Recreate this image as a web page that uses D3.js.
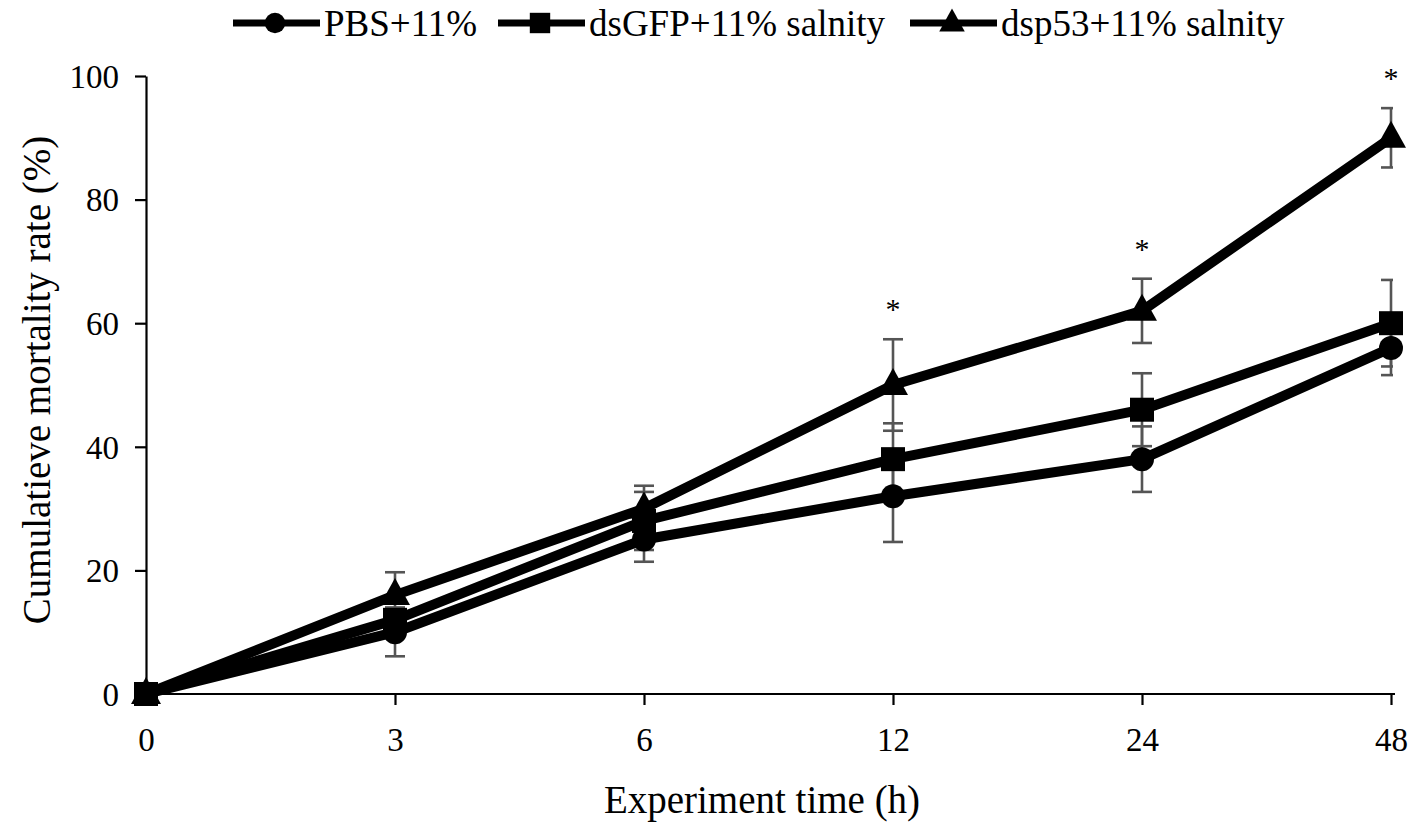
<!DOCTYPE html>
<html lang="en">
<head>
<meta charset="UTF-8">
<title>Cumulative mortality</title>
<script src="https://cdnjs.cloudflare.com/ajax/libs/d3/7.8.5/d3.min.js"></script>
<style>
  body { margin: 0; background: #fff; }
  svg { display: block; font-family: "Liberation Serif", "Times New Roman", serif; }
</style>
</head>
<body>
<div id="chart"></div>
<script>
// time points (h)
var timeLabels = ["0", "3", "6", "12", "24", "48"];
var yTicks = [0, 20, 40, 60, 80, 100];

var seriesNames = ["PBS+11%", "dsGFP+11% salnity", "dsp53+11% salnity"];
var seriesShapes = ["circle", "square", "triangle"];

// mean cumulative mortality (%)
var pbsValues   = [0, 10, 25, 32, 38, 56];
var dsgfpValues = [0, 12, 28, 38, 46, 60];
var dsp53Values = [0, 16, 30, 50, 62, 90];

// error (±)
var pbsErr   = [0, 3.9, 3.6, 7.4, 5.3, 4.4];
var dsgfpErr = [0, 2.0, 4.7, 5.8, 5.9, 7.0];
var dsp53Err = [0, 3.7, 3.7, 7.4, 5.2, 4.8];

// significance markers
var sigLabels = ["", "", "", "*", "*", "*"];

var W = 1417, H = 827;
var margin = {top: 76, right: 26, bottom: 133, left: 146};

var svg = d3.select("#chart").append("svg")
    .attr("width", W)
    .attr("height", H);

var x = d3.scalePoint()
    .domain(timeLabels)
    .range([margin.left, W - margin.right]);

var y = d3.scaleLinear()
    .domain([0, 100])
    .range([H - margin.bottom, margin.top]);

svg.append("clipPath").attr("id", "plotClip")
  .append("rect")
    .attr("x", 0).attr("y", 0)
    .attr("width", W - margin.right + 2)
    .attr("height", H);

// axes
var xAxis = svg.append("g")
    .attr("transform", "translate(0," + y(0) + ")")
    .call(d3.axisBottom(x).tickSize(11).tickSizeOuter(0).tickPadding(23));

var yAxis = svg.append("g")
    .attr("transform", "translate(" + margin.left + ",0)")
    .call(d3.axisLeft(y).tickValues(yTicks).tickSize(11).tickSizeOuter(0).tickPadding(16));

[xAxis, yAxis].forEach(function(g) {
    g.select(".domain").attr("stroke", "#000").attr("stroke-width", 2.2);
    g.selectAll(".tick line").attr("stroke", "#000").attr("stroke-width", 2.2);
    g.selectAll(".tick text")
        .attr("fill", "#000")
        .style("font-family", "'Liberation Serif', serif")
        .style("font-size", "33px");
});
// extend x axis line slightly past last point
xAxis.select(".domain").attr("d", "M" + margin.left + ",0H" + (W - margin.right + 4));
yAxis.selectAll(".tick text").attr("dy", "0.34em");

svg.append("text")
    .attr("x", 762)
    .attr("y", 813)
    .attr("text-anchor", "middle")
    .style("font-size", "39px")
    .text("Experiment time (h)");

svg.append("text")
    .attr("transform", "translate(50,380) rotate(-90)")
    .attr("text-anchor", "middle")
    .style("font-size", "39px")
    .text("Cumulatieve mortality rate (%)");

var allValues = [pbsValues, dsgfpValues, dsp53Values];
var allErr = [pbsErr, dsgfpErr, dsp53Err];

function series(i) {
    return timeLabels.map(function(t, j) {
        return {t: t, v: allValues[i][j], e: allErr[i][j]};
    });
}

// error bars
var errG = svg.append("g").attr("clip-path", "url(#plotClip)");
[0, 1, 2].forEach(function(i) {
    series(i).forEach(function(d) {
        if (!d.e) return;
        var cx = x(d.t), y1 = y(d.v + d.e), y0 = y(d.v - d.e);
        errG.append("line").attr("x1", cx).attr("x2", cx).attr("y1", y1).attr("y2", y0);
        errG.append("line").attr("x1", cx - 10).attr("x2", cx + 10).attr("y1", y1).attr("y2", y1);
        errG.append("line").attr("x1", cx - 10).attr("x2", cx + 10).attr("y1", y0).attr("y2", y0);
    });
});
errG.selectAll("line").attr("stroke", "#555").attr("stroke-width", 2.6);

var line = d3.line()
    .x(function(d) { return x(d.t); })
    .y(function(d) { return y(d.v); });

function marker(sel, shape, s) {
    if (shape === "circle") {
        sel.append("circle").attr("r", 12 * s);
    } else if (shape === "square") {
        sel.append("rect").attr("x", -12 * s).attr("y", -12 * s)
            .attr("width", 24 * s).attr("height", 24 * s);
    } else {
        sel.append("path").attr("d", "M0," + (-17 * s) + "L" + (15 * s) + "," + (10 * s) +
            "L" + (-15 * s) + "," + (10 * s) + "Z");
    }
    sel.attr("fill", "#000");
}

[0, 1, 2].forEach(function(i) {
    var data = series(i);
    svg.append("path")
        .datum(data)
        .attr("fill", "none")
        .attr("stroke", "#000")
        .attr("stroke-width", 10)
        .attr("stroke-linejoin", "round")
        .attr("d", line);
    data.forEach(function(d) {
        var g = svg.append("g").attr("transform", "translate(" + x(d.t) + "," + y(d.v) + ")");
        marker(g, seriesShapes[i], 1);
    });
});

// asterisks above highest error bar
timeLabels.forEach(function(t, j) {
    if (!sigLabels[j]) return;
    svg.append("text")
        .attr("x", x(t))
        .attr("y", y(dsp53Values[j] + dsp53Err[j]) - 20)
        .attr("text-anchor", "middle")
        .style("font-size", "30px")
        .text(sigLabels[j]);
});

// legend
var legendX = [233, 498, 910];
var legend = svg.selectAll(".legend")
    .data(seriesNames)
    .enter().append("g")
    .attr("class", "legend")
    .attr("transform", function(d, i) { return "translate(" + legendX[i] + ",23)"; });

legend.append("line")
    .attr("x1", 0).attr("x2", 87)
    .attr("stroke", "#000").attr("stroke-width", 7);

legend.each(function(d, i) {
    var g = d3.select(this).append("g").attr("transform", "translate(42,0)");
    marker(g, seriesShapes[i], 0.85);
});

legend.append("text")
    .attr("x", 91)
    .attr("y", 13)
    .style("font-size", "37px")
    .text(function(d) { return d; });
</script>
</body>
</html>
